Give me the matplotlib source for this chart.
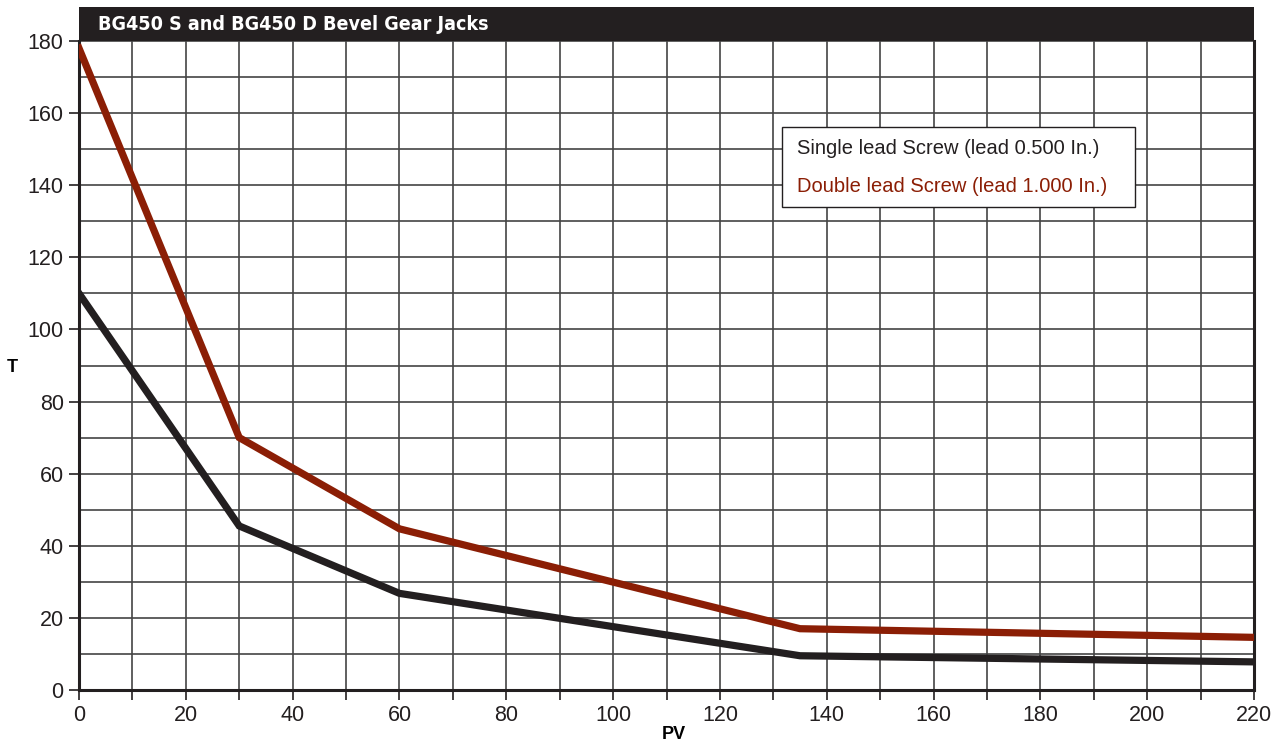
import numpy as np
import matplotlib.pyplot as plt
from matplotlib.patches import Rectangle
from matplotlib import font_manager

# Dados
pv = [0, 30, 60, 135, 220]
t_single = [110, 45.5, 26.8, 9.5, 7.8]
t_double = [178, 70, 44.7, 17.0, 14.6]

label_single = 'Single lead Screw (lead 0.500 In.)'
label_double = 'Double lead Screw (lead 1.000 In.)'
titulo = 'BG450 S and BG450 D Bevel Gear Jacks'

cor_preta = '#231f20'
cor_vermelha = '#8b1e05'

plt.rcParams['font.family'] = ['Liberation Sans', 'DejaVu Sans']

# fonte condensada para o título, se existir
fp_titulo = font_manager.FontProperties(family='DejaVu Sans', weight='bold', stretch='condensed')
arq = font_manager.findfont(fp_titulo)
if 'Condensed' in arq:
    tam_titulo = 14.1
else:
    tam_titulo = 12.7

fig = plt.figure(figsize=(12.75, 7.42), dpi=100)
ax = fig.add_axes([79/1275, 52/742, (1254-79)/1275, (690-41)/742])

ax.plot(pv, t_single, color=cor_preta, linewidth=5.2, solid_joinstyle='miter', zorder=3)
ax.plot(pv, t_double, color=cor_vermelha, linewidth=5.2, solid_joinstyle='miter', zorder=3)

ax.set_xlim(0, 220)
ax.set_ylim(0, 180)
ax.set_xticks(np.arange(0, 221, 20))
ax.set_xticks(np.arange(10, 220, 20), minor=True)
ax.set_yticks(np.arange(0, 181, 20))
ax.set_yticks(np.arange(10, 180, 20), minor=True)
ax.grid(True, which='both', color='#444444', linewidth=1.2, zorder=1)
ax.tick_params(axis='both', which='major', direction='out', length=7, width=1.2,
               labelsize=15.5, colors='#231f20', pad=4)
ax.tick_params(axis='x', which='minor', direction='out', length=7, width=1.2, colors='#231f20')
ax.tick_params(axis='y', which='minor', length=0)

for s in ['left', 'bottom', 'right']:
    ax.spines[s].set_color('#231f20')
    ax.spines[s].set_linewidth(2.2)
ax.spines['top'].set_visible(False)

# Barra do título
bar = Rectangle((0, 1.0), 1.0, 34/649, transform=ax.transAxes, facecolor='#231f20',
                edgecolor='none', clip_on=False, zorder=5)
ax.add_patch(bar)
ax.text(0.016, 1.0 + 17/649, titulo, transform=ax.transAxes, color='white',
        fontproperties=fp_titulo, fontsize=tam_titulo,
        va='center', ha='left', zorder=6)

ax.set_xlabel('PV', fontsize=13, fontweight='bold', va='top')
ax.set_ylabel('T', fontsize=13, fontweight='bold', rotation=0, va='center', ha='center')
ax.yaxis.set_label_coords(-0.057, (690-368)/649)
ax.xaxis.set_label_coords(0.506, -0.056)

# Legenda (caixa com textos coloridos)
caixa = Rectangle(((782-79)/1175, (690-207)/649), 353/1175, 80/649, transform=ax.transAxes,
                  facecolor='white', edgecolor='#231f20', linewidth=1.0, zorder=6)
ax.add_patch(caixa)
ax.text((797-79)/1175, (690-149)/649, label_single, transform=ax.transAxes,
        color=cor_preta, fontsize=14.5, va='center', ha='left', zorder=7)
ax.text((797-79)/1175, (690-186)/649, label_double, transform=ax.transAxes,
        color=cor_vermelha, fontsize=14.5, va='center', ha='left', zorder=7)

fig.savefig('out.png', dpi=100)
